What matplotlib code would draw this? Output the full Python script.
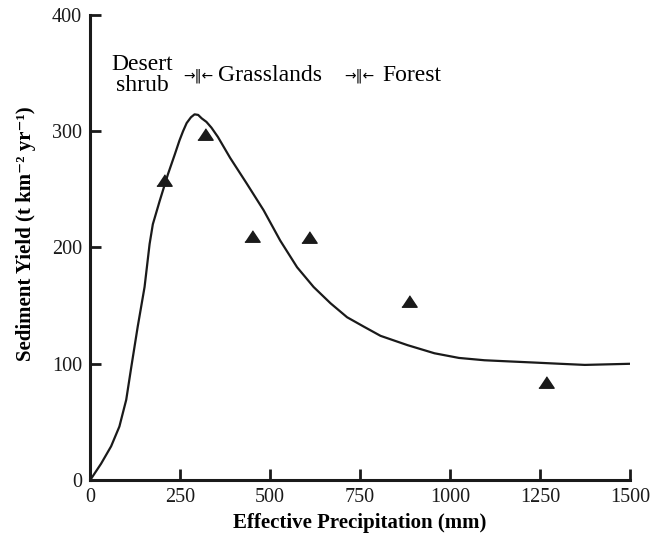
import numpy as np
import matplotlib.pyplot as plt

plt.rcParams['font.family'] = ['Liberation Serif', 'DejaVu Serif']

# curve
curve_x = [0, 30, 58, 81, 100, 114, 132, 151, 165, 174, 193, 216, 235, 248, 258, 268,
           280, 290, 300, 310, 323, 337, 355, 389, 435, 482, 528, 575, 621, 668, 714,
           760, 807, 882, 957, 1025, 1096, 1165, 1236, 1304, 1375, 1505]
curve_y = [0, 14, 29, 46, 69, 97, 132, 166, 203, 220, 240, 263, 280, 292, 300, 307,
           312, 314.5, 314, 311, 308, 303, 295, 277, 255, 232, 206, 183, 166, 152, 140,
           132, 124, 116, 109, 105, 103, 102, 101, 100, 99, 100]

# observed points (triangles)
obs_x = [206, 318, 449, 607, 886, 1268]
obs_y = [258, 298, 210, 209, 154, 84]

zones = ["Desert\nshrub", "Grasslands", "Forest"]

fig = plt.figure(figsize=(6.54, 5.33), dpi=100)
ax = fig.add_axes([0.138, 0.0994, 0.825, 0.8726])

ax.plot(curve_x, curve_y, color="#1a1a1a", lw=1.6, solid_joinstyle="round")
tri = [(-1, -0.75), (1, -0.75), (0, 0.75)]
ax.plot(obs_x, obs_y, ls="none", marker=tri, ms=11, color="#1a1a1a")

ax.text(145, 348, zones[0], fontsize=17, ha="center", va="center", linespacing=1.0)
ax.text(258, 348, "→‖←", fontsize=10, ha="left", va="center", family=["DejaVu Sans"])
ax.text(354, 348, zones[1], fontsize=17, ha="left", va="center")
ax.text(705, 348, "→‖←", fontsize=10, ha="left", va="center", family=["DejaVu Sans"])
ax.text(812, 348, zones[2], fontsize=17, ha="left", va="center")

ax.set_xlim(0, 1500)
ax.set_ylim(0, 400)
ax.set_xticks([0, 250, 500, 750, 1000, 1250, 1500])
ax.set_yticks([0, 100, 200, 300, 400])
ax.spines["top"].set_visible(False)
ax.spines["right"].set_visible(False)
for s in ["left", "bottom"]:
    ax.spines[s].set_linewidth(2.2)
    ax.spines[s].set_color("#1a1a1a")
ax.tick_params(direction="in", length=8, width=2, labelsize=14.5, colors="#1a1a1a", pad=6)

ax.set_xlabel("Effective Precipitation (mm)", fontsize=15, fontweight="bold", labelpad=4)
ax.set_ylabel("Sediment Yield (t km⁻² yr⁻¹)", fontsize=15, fontweight="bold")
ax.yaxis.set_label_coords(-0.1, 0.53)

plt.savefig("out.png", dpi=100)
